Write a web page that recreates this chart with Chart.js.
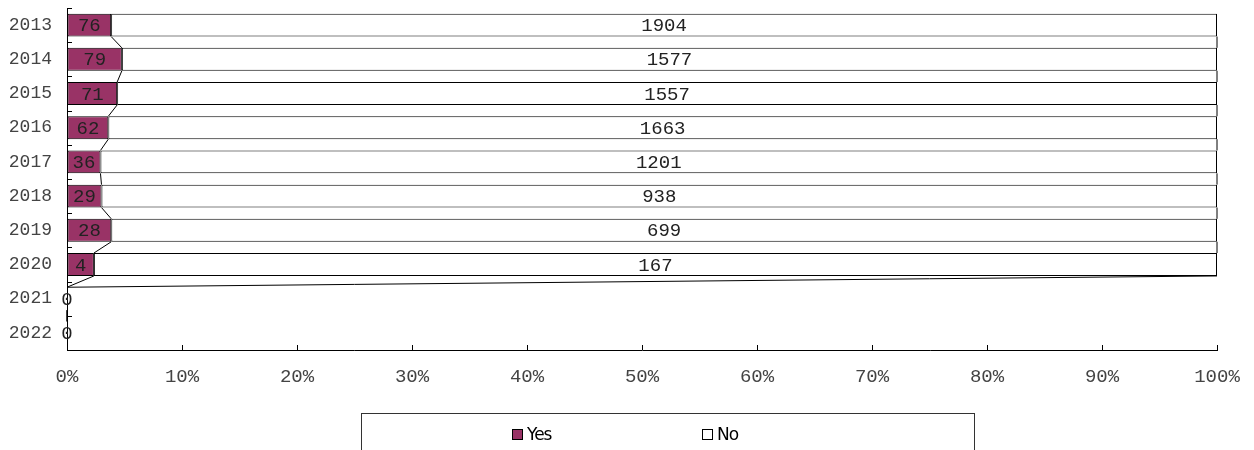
<!DOCTYPE html>
<html>
<head>
<meta charset="utf-8">
<script src="https://cdn.jsdelivr.net/npm/chart.js@4"></script>
<style>
  html, body { margin: 0; padding: 0; background: #fff; }
  #wrap { position: relative; width: 1254px; height: 450px; overflow: hidden; }
  #legendBox {
    position: absolute; left: 361px; top: 413px; width: 614px; height: 60px;
    border: 1px solid #333; box-sizing: border-box;
    font-family: "DejaVu Sans", sans-serif; font-size: 17px; color: #000;
  }
  .item { position: absolute; top: 10px; line-height: 20px; letter-spacing: -1px; }
  .sw { display: inline-block; width: 9px; height: 9px; border: 1px solid #000; margin-right: 4px; vertical-align: 0px; }
</style>
</head>
<body>
<div id="wrap">
  <canvas id="chart" width="1254" height="450"></canvas>
  <div id="legendBox">
    <span class="item" style="left:150px"><span class="sw" style="background:#993366"></span>Yes</span>
    <span class="item" style="left:340px"><span class="sw" style="background:#fff"></span>No</span>
  </div>
</div>
<script>
const years = ['2013', '2014', '2015', '2016', '2017', '2018', '2019', '2020', '2021', '2022'];
const yesCounts = [76, 79, 71, 62, 36, 29, 28, 4, 0, 0];
const noCounts = [1904, 1577, 1557, 1663, 1201, 938, 699, 167, 0, 0];
const xTicks = [0, 10, 20, 30, 40, 50, 60, 70, 80, 90, 100];

const totals = years.map((y, i) => yesCounts[i] + noCounts[i]);
const yesPct = yesCounts.map((v, i) => totals[i] ? v / totals[i] * 100 : 0);
const noPct = noCounts.map((v, i) => totals[i] ? v / totals[i] * 100 : 0);
const labelFont = '19px "Liberation Mono", monospace';

// Excel-style series lines between stacked segments
const seriesLines = {
  id: 'seriesLines',
  afterDatasetsDraw(chart) {
    const ctx = chart.ctx;
    const xs = chart.scales.x;
    ctx.save();
    ctx.strokeStyle = '#000';
    ctx.lineWidth = 1;
    const cum = [yesPct, yesPct.map((v, i) => v + noPct[i])];
    cum.forEach((vals, d) => {
      const meta = chart.getDatasetMeta(d);
      for (let i = 0; i < vals.length - 1; i++) {
        const a = meta.data[i], b = meta.data[i + 1];
        ctx.beginPath();
        ctx.moveTo(xs.getPixelForValue(vals[i]), a.y + a.height / 2);
        ctx.lineTo(xs.getPixelForValue(vals[i + 1]), b.y - b.height / 2);
        ctx.stroke();
      }
    });
    ctx.restore();
  }
};

// value labels centred in each segment
const valueLabels = {
  id: 'valueLabels',
  afterDatasetsDraw(chart) {
    const ctx = chart.ctx;
    ctx.save();
    ctx.font = labelFont;
    ctx.fillStyle = '#222';
    ctx.textAlign = 'center';
    ctx.textBaseline = 'middle';
    [yesCounts, noCounts].forEach((counts, d) => {
      const meta = chart.getDatasetMeta(d);
      meta.data.forEach((el, i) => {
        if (d === 1 && counts[i] === 0) return;
        ctx.fillText(String(counts[i]), (el.x + el.base) / 2, el.y + 1);
      });
    });
    ctx.restore();
  }
};

// tick marks pointing into the plot area
const innerTicks = {
  id: 'innerTicks',
  afterDraw(chart) {
    const ctx = chart.ctx;
    const xs = chart.scales.x, ys = chart.scales.y;
    const area = chart.chartArea;
    ctx.save();
    ctx.strokeStyle = '#000';
    ctx.lineWidth = 1;
    ctx.beginPath();
    xTicks.forEach(t => {
      const px = Math.round(xs.getPixelForValue(t)) + 0.5;
      ctx.moveTo(px, area.bottom);
      ctx.lineTo(px, area.bottom - 5);
    });
    for (let i = 0; i <= years.length; i++) {
      const py = Math.round(ys.getPixelForValue(i - 0.5)) + 0.5;
      ctx.moveTo(area.left, py);
      ctx.lineTo(area.left + 5, py);
    }
    ctx.stroke();
    ctx.restore();
  }
};

new Chart(document.getElementById('chart'), {
  type: 'bar',
  data: {
    labels: years,
    datasets: [
      { label: 'Yes', data: yesPct, backgroundColor: '#993366', borderColor: '#000', borderWidth: 1, borderSkipped: false },
      { label: 'No', data: noPct, backgroundColor: '#fff', borderColor: '#000', borderWidth: 1, borderSkipped: false }
    ]
  },
  options: {
    indexAxis: 'y',
    responsive: false,
    animation: false,
    barPercentage: 0.67,
    categoryPercentage: 1,
    layout: { padding: { top: 8, right: 37, left: 0, bottom: 0 } },
    plugins: {
      legend: { display: false },
      tooltip: { enabled: false }
    },
    scales: {
      x: {
        stacked: true,
        min: 0,
        max: 100,
        afterBuildTicks: s => { s.ticks = xTicks.map(v => ({ value: v })); },
        afterFit: s => { s.height = 100; s.paddingLeft = 0; s.paddingRight = 0; },
        ticks: {
          font: { family: '"Liberation Mono", monospace', size: 19 },
          color: '#444',
          padding: 16,
          maxRotation: 0,
          callback: v => v + '%'
        },
        grid: { display: true, drawOnChartArea: false, drawTicks: false },
        border: { display: true, color: '#000', width: 1 }
      },
      y: {
        stacked: true,
        afterFit: s => { s.width = 67; s.paddingTop = 0; s.paddingBottom = 0; },
        ticks: {
          font: { family: '"Liberation Mono", monospace', size: 18 },
          color: '#444',
          padding: 15
        },
        grid: { display: true, drawOnChartArea: false, drawTicks: false, offset: true },
        border: { display: true, color: '#000', width: 1 }
      }
    }
  },
  plugins: [seriesLines, valueLabels, innerTicks]
});
</script>
</body>
</html>
